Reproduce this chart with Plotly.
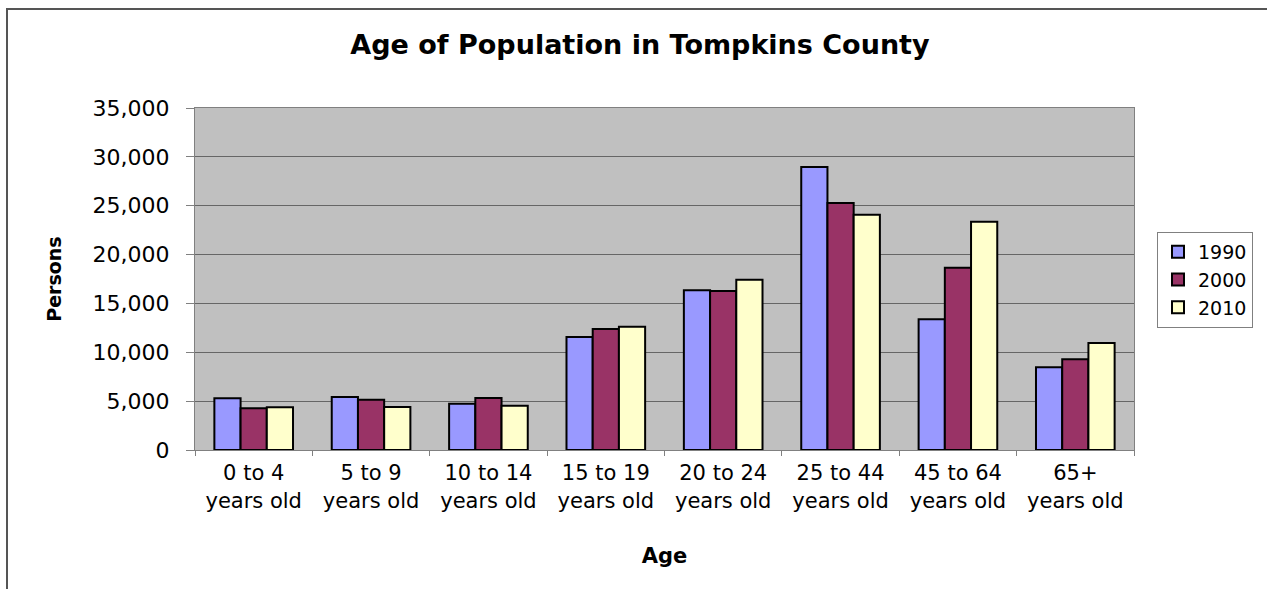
import plotly.graph_objects as go

# Age groups on the x axis
age_groups = [
    "0 to 4<br>years old", "5 to 9<br>years old", "10 to 14<br>years old",
    "15 to 19<br>years old", "20 to 24<br>years old", "25 to 44<br>years old",
    "45 to 64<br>years old", "65+<br>years old",
]

# Persons per age group, by census year
pop_1990 = [5290, 5420, 4740, 11560, 16340, 28950, 13370, 8460]
pop_2000 = [4270, 5150, 5320, 12380, 16270, 25270, 18650, 9280]
pop_2010 = [4370, 4400, 4530, 12610, 17420, 24070, 23360, 10950]

series = [
    ("1990", pop_1990, "#9999FF"),
    ("2000", pop_2000, "#993366"),
    ("2010", pop_2010, "#FFFFCC"),
]

W, H = 1267, 589
L, R, T, B = 195, 133, 108, 139

fig = go.Figure()
for name, vals, color in series:
    fig.add_trace(go.Bar(
        name=name, x=age_groups, y=vals,
        marker=dict(color=color, line=dict(color="#000000", width=2)),
    ))

font = "DejaVu Sans, Arial, sans-serif"

fig.update_layout(
    width=W, height=H,
    margin=dict(l=L, r=R, t=T, b=B, pad=0),
    paper_bgcolor="#FFFFFF",
    plot_bgcolor="#C0C0C0",
    barmode="group",
    bargap=0.33,
    bargroupgap=0,
    font=dict(family=font, color="#000000"),
    title=dict(
        text="<b>Age of Population in Tompkins County</b>",
        font=dict(family=font, size=27, color="#000000"),
        xref="container", yref="container",
        x=640 / W, y=1 - 45 / H, xanchor="center", yanchor="middle",
    ),
    legend=dict(
        x=(1157 - L) / (W - L - R), y=(450 - 232) / (H - T - B),
        xanchor="left", yanchor="top",
        bgcolor="#FFFFFF", bordercolor="#808080", borderwidth=1,
        font=dict(family=font, size=19, color="#000000"),
        tracegroupgap=0, itemwidth=30,
    ),
    xaxis=dict(
        type="category",
        showgrid=False,
        showline=True, linecolor="#808080", linewidth=1, mirror=True,
        ticks="outside", tickson="boundaries", ticklen=5, tickcolor="#808080",
        ticklabelstandoff=4,
        tickfont=dict(family=font, size=21, color="#000000"),
        title=dict(text="<b>Age</b>", font=dict(family=font, size=21), standoff=36),
    ),
    yaxis=dict(
        range=[0, 35000], dtick=5000, tickformat=",",
        showgrid=True, gridcolor="#666666", gridwidth=1,
        zeroline=False,
        showline=True, linecolor="#808080", linewidth=1, mirror=True,
        ticks="outside", ticklen=8, tickcolor="#808080",
        ticklabelstandoff=12,
        tickfont=dict(family=font, size=22, color="#000000"),
        title=dict(text="<b>Persons</b>", font=dict(family=font, size=19), standoff=25),
    ),
)

# Chart-area frame
fig.add_shape(
    type="rect", xref="paper", yref="paper", layer="below",
    x0=(7 - L) / (W - L - R), x1=(1300 - L) / (W - L - R),
    y0=(450 - 620) / (H - T - B), y1=(450 - 9) / (H - T - B),
    line=dict(color="#555555", width=2), fillcolor="rgba(0,0,0,0)",
)

fig.write_html("out.html")
